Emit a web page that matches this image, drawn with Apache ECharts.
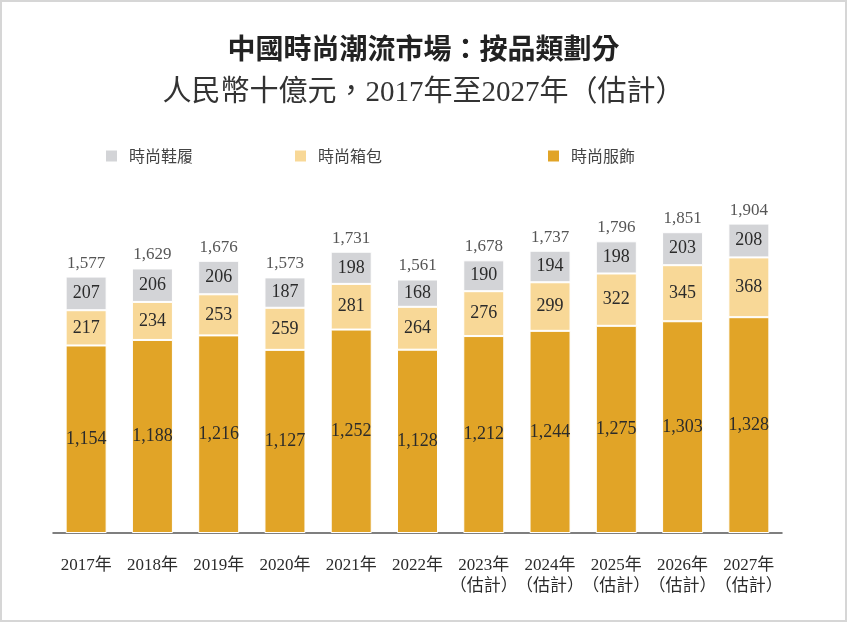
<!DOCTYPE html>
<html><head><meta charset="utf-8">
<script src="https://cdn.jsdelivr.net/npm/echarts@6/dist/echarts.min.js"></script>
<style>html,body{margin:0;padding:0;background:#fff}#c{width:847px;height:622px;box-sizing:border-box;border:2px solid #d6d6d6}</style>
</head><body><div id="c"></div>
<script>
const categories = ['2017年','2018年','2019年','2020年','2021年','2022年','2023年\n（估計）','2024年\n（估計）','2025年\n（估計）','2026年\n（估計）','2027年\n（估計）'];
const apparel = [1154,1188,1216,1127,1252,1128,1212,1244,1275,1303,1328];
const bags = [217,234,253,259,281,264,276,299,322,345,368];
const shoes = [207,206,206,187,198,168,190,194,198,203,208];
const totals = [1577,1629,1676,1573,1731,1561,1678,1737,1796,1851,1904];
const names = ['時尚鞋履','時尚箱包','時尚服飾'];

const serif = '"Liberation Serif","Noto Sans CJK TC",serif';
const fmt = v => v.toLocaleString('en-US');
const chart = echarts.init(document.getElementById('c'));
const lbl = {show:true, position:'inside', color:'#2b2b2b', fontSize:18, fontFamily:serif, formatter:p=>fmt(p.value)};
const legendBase = {top:141, itemWidth:13, itemHeight:13, icon:'rect', textStyle:{color:'#444', fontSize:16, fontFamily:'"Noto Sans CJK TC"', padding:[0,0,0,6]}, itemGap:12};
chart.setOption({
  animation:false,
  title:[
    {text:'中國時尚潮流市場：按品類劃分', left:'center', top:27, textStyle:{fontSize:28, fontWeight:'bold', color:'#222', fontFamily:'"Noto Sans CJK TC"'}},
    {text:'人民幣十億元，2017年至2027年（估計）', left:'center', top:72, textStyle:{fontSize:29, fontWeight:'normal', color:'#333', fontFamily:serif}}
  ],
  legend:[
    Object.assign({left:97, data:[names[0]]}, legendBase),
    Object.assign({left:286, data:[names[1]]}, legendBase),
    Object.assign({left:539, data:[names[2]]}, legendBase)
  ],
  grid:{left:51, right:63, top:206, bottom:87},
  xAxis:{type:'category', data:categories, axisLine:{lineStyle:{color:'#555', width:1.5}}, axisTick:{show:false},
    axisLabel:{color:'#2b2b2b', fontSize:17, fontFamily:serif, margin:22, lineHeight:21, interval:0}},
  yAxis:{type:'value', min:0, max:2000, show:false, splitLine:{show:false}},
  series:[
    {name:names[2], type:'bar', stack:'a', data:apparel, barWidth:41, itemStyle:{color:'#E1A427', borderColor:'#fff', borderWidth:1}, label:lbl},
    {name:names[1], type:'bar', stack:'a', data:bags, itemStyle:{color:'#F8D897', borderColor:'#fff', borderWidth:1}, label:lbl},
    {name:names[0], type:'bar', stack:'a', data:shoes, itemStyle:{color:'#D3D4D7', borderColor:'#fff', borderWidth:1}, label:lbl},
    {name:'total', type:'scatter', data:totals, symbolSize:0, label:{show:true, position:'top', distance:5, color:'#2b2b2b', fontSize:17, fontFamily:serif, formatter:p=>fmt(p.value)}, z:5}
  ]
});
</script></body></html>
